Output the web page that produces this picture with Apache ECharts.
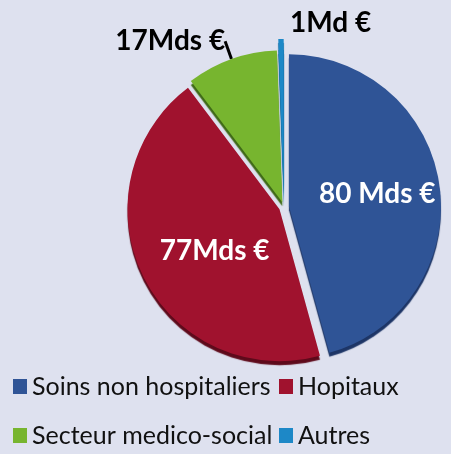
<!DOCTYPE html>
<html>
<head>
<meta charset="utf-8">
<script src="https://cdn.jsdelivr.net/npm/echarts@6/dist/echarts.min.js"></script>
<style>
  html, body { margin: 0; padding: 0; background: #dee1ef; }
  #chart { width: 451px; height: 454px; }
</style>
</head>
<body>
<div id="chart"></div>
<script>
const categories = ['Soins non hospitaliers', 'Hopitaux', 'Secteur medico-social', 'Autres'];
const values = [80, 77, 17, 1];
const valueLabels = ['80 Mds €', '77Mds €', '17Mds €', '1Md €'];

const colors = ['#2f5496', '#a0122e', '#77b52f', '#1d88c7'];
const rimColors = ['#1d3566', '#5e0a1b', '#3f6a18', '#0f5a88'];

const labelFont = { fontFamily: 'Lato', fontWeight: 'bold', fontSize: 28 };

const mainData = categories.map((name, i) => ({
  name,
  value: values[i],
  selected: true,
  itemStyle: { color: colors[i], shadowColor: rimColors[i] },
  label: i < 2
    ? { show: true, position: 'inside', color: '#fff', formatter: valueLabels[i] }
    : i === 2
      ? { show: true, position: 'outside', color: '#000', formatter: valueLabels[i] }
      : { show: false },
  labelLine: i === 2
    ? { show: true, length: 19, length2: 0, lineStyle: { color: '#000', width: 3 } }
    : { show: false }
}));

// the thin "Autres" wedge sticks out further than the others
const autresData = categories.map((name, i) => ({
  name,
  value: values[i],
  selected: i === 3,
  itemStyle: i === 3
    ? { color: colors[i], shadowColor: rimColors[i] }
    : { color: 'transparent', shadowColor: 'transparent' },
  label: i === 3
    ? { show: true, position: 'outside', color: '#000', formatter: valueLabels[i] }
    : { show: false },
  labelLine: { show: false, length: 0, length2: 0 }
}));

const chart = echarts.init(document.getElementById('chart'));

const pieBase = {
  type: 'pie',
  center: [284, 207],
  radius: 152,
  startAngle: 90,
  clockwise: true,
  selectedMode: 'multiple',
  avoidLabelOverlap: false,
  emphasis: { disabled: true },
  animation: false,
  itemStyle: { borderWidth: 0, shadowBlur: 1, shadowOffsetX: 0, shadowOffsetY: 4 },
  label: Object.assign({}, labelFont, { distanceToLabelLine: 0 })
};

const legendBase = {
  orient: 'vertical',
  top: 374,
  padding: 0,
  itemWidth: 14,
  itemHeight: 15,
  itemGap: 24,
  icon: 'rect',
  selectedMode: false,
  textStyle: { fontFamily: 'Lato', fontSize: 25, lineHeight: 24, color: '#111' }
};

chart.setOption({
  backgroundColor: '#dee1ef',
  legend: [
    Object.assign({}, legendBase, { left: 13, height: 80, data: [categories[0], categories[2]] }),
    Object.assign({}, legendBase, { left: 279, height: 80, data: [categories[1], categories[3]] })
  ],
  series: [
    Object.assign({}, pieBase, {
      selectedOffset: 5,
      data: mainData,
      labelLayout: (p) => (p.dataIndex === 0 ? { dx: 10, dy: -2 }
        : p.dataIndex === 1 ? { dx: 6, dy: 7 } : {})
    }),
    Object.assign({}, pieBase, {
      selectedOffset: 16,
      silent: true,
      data: autresData,
      labelLayout: () => ({ align: 'left', dx: 9, dy: -16 })
    })
  ]
});
</script>
</body>
</html>
